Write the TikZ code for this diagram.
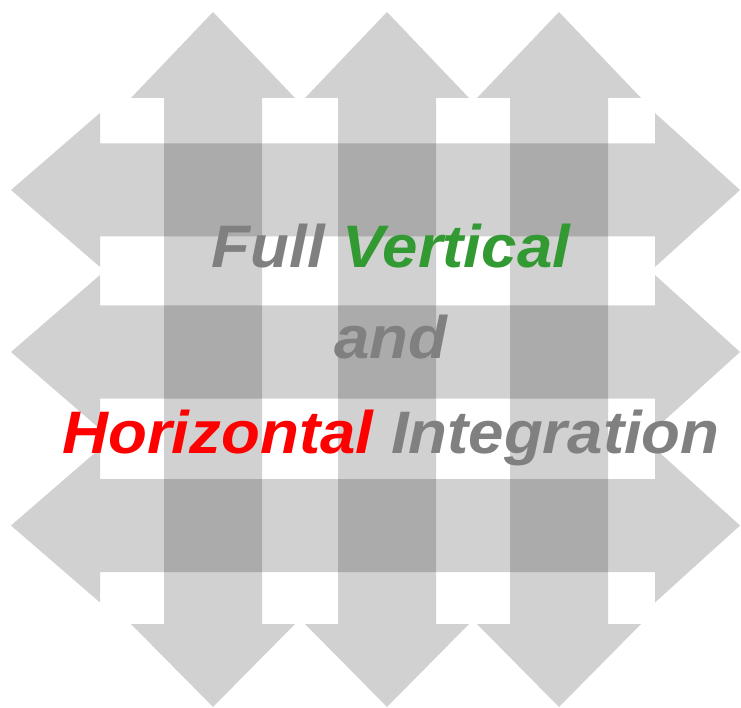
\documentclass[tikz,border=0pt]{standalone}
\usepackage{fontspec}
\setmainfont{Liberation Sans}[FakeStretch=1.06]
\definecolor{textgray}{RGB}{128,128,128}
\definecolor{vgreen}{RGB}{51,153,51}
\definecolor{hred}{RGB}{255,0,0}

% double-headed vertical arrow: centre x
\newcommand\varrowshape[1]{%
  \fill[arrowfill] (#1,12) -- (#1+82,98) -- (#1+49,98) -- (#1+49,624)
    -- (#1+82,624) -- (#1,707) -- (#1-82,624) -- (#1-49,624)
    -- (#1-49,98) -- (#1-82,98) -- cycle;}
% double-headed horizontal arrow: centre y
\newcommand\harrowshape[1]{%
  \fill[arrowfill] (11,#1) -- (100,#1-77) -- (100,#1-46.5) -- (655,#1-46.5)
    -- (655,#1-77) -- (740,#1) -- (655,#1+77) -- (655,#1+46.5)
    -- (100,#1+46.5) -- (100,#1+77) -- cycle;}

\begin{document}
\begin{tikzpicture}[x=1pt,y=-1pt,
  arrowfill/.style={fill=black,fill opacity=0.18},
  title/.style={anchor=base,inner sep=0pt,
    font=\fontsize{60}{60}\selectfont\bfseries\itshape}]
  \useasboundingbox[fill=white] (0,0) rectangle (741,708);

  % three vertical and three horizontal arrows, crossing shafts overlap
  \varrowshape{213}
  \varrowshape{387}
  \varrowshape{559}
  \harrowshape{190}
  \harrowshape{352}
  \harrowshape{525.5}

  % caption in three lines
  \node[title] (line1) at (391,268)
    {\textcolor{textgray}{Full} \textcolor{vgreen}{Vertical}};
  \node[title] (line2) at (391,358) {\textcolor{textgray}{and}};
  \node[title] (line3) at (391,453)
    {\textcolor{hred}{Horizontal} \textcolor{textgray}{Integration}};
\end{tikzpicture}
\end{document}
